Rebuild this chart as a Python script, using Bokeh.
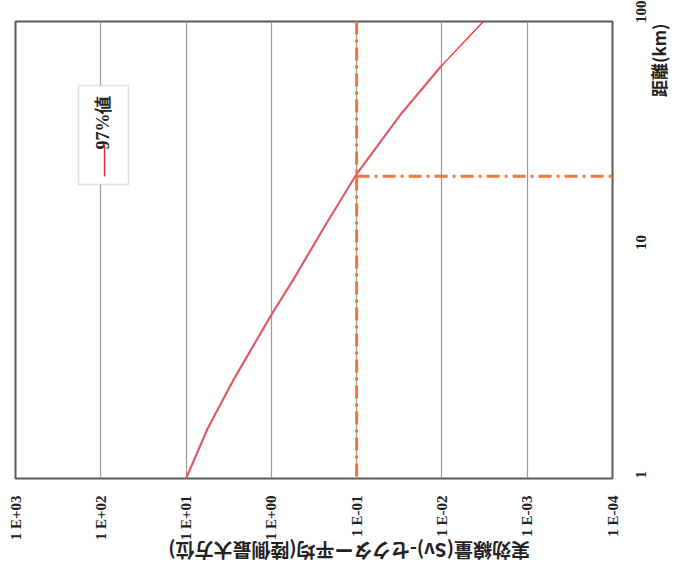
import math
from bokeh.plotting import figure
from bokeh.models import Range1d, FixedTicker, Label, BoxAnnotation, Span
from bokeh.embed import file_html
from bokeh.resources import INLINE

# ---- data ----
distance_km = [1.0, 1.65, 2.73, 5.2, 7.4, 12.9, 21.5, 39.7, 64.3]
dose_sv = [10.0, 5.6, 2.74, 1.0, 0.555, 0.231, 0.1, 0.0297, 0.01]
ext_distance_km = [64.3, 100.0]
ext_dose_sv = [0.01, 0.00327]

ref_dose = 0.1
ref_distance = 21.0

dose_ticks = [1e3, 1e2, 1e1, 1e0, 1e-1, 1e-2, 1e-3, 1e-4]
dose_tick_labels = ["1 E+03", "1 E+02", "1 E+01", "1 E+00", "1 E-01", "1 E-02", "1 E-03", "1 E-04"]
distance_ticks = [1, 10, 100]
distance_tick_labels = ["1", "10", "100"]

dose_title = "実効線量(Sv)-セクター平均(陸側最大方位)"
distance_title = "距離(km)"
legend_text = "97%値"

x_start, x_end = dose_ticks[0], dose_ticks[-1]
y_start, y_end = distance_ticks[0], distance_ticks[-1]

# ideographic spaces used only to shift the rotated axis titles along their axis
PAD = "\u3000"

p = figure(width=686, height=581, x_axis_type="log", y_axis_type="log",
           x_range=Range1d(x_start, x_end), y_range=Range1d(y_start, y_end),
           y_axis_location="right", output_backend="svg", toolbar_location=None,
           min_border_left=15, min_border_top=21, min_border_right=65, min_border_bottom=101,
           background_fill_color="white", border_fill_color="white")

p.outline_line_color = "#5a5a5a"
p.outline_line_width = 2

# x axis (dose)
xa = p.xaxis[0]
xa.ticker = FixedTicker(ticks=dose_ticks)
xa.major_label_overrides = {t: l for t, l in zip(dose_ticks, dose_tick_labels)}
xa.major_label_orientation = math.pi / 2
xa.major_label_text_font = "Liberation Serif"
xa.major_label_text_font_style = "bold"
xa.major_label_text_font_size = "15px"
xa.major_label_text_color = "#222222"
xa.major_label_standoff = 11
xa.axis_line_color = None
xa.major_tick_line_color = None
xa.minor_tick_line_color = None
xa.axis_label = dose_title + PAD * 8
xa.axis_label_orientation = math.pi
xa.axis_label_align = "end"
xa.axis_label_text_font = "Noto Sans CJK JP"
xa.axis_label_text_font_style = "bold"
xa.axis_label_text_font_size = "19px"
xa.axis_label_text_color = "#222222"
xa.axis_label_standoff = 8

# y axis (distance)
ya = p.yaxis[0]
ya.ticker = FixedTicker(ticks=distance_ticks)
ya.major_label_overrides = {t: l for t, l in zip(distance_ticks, distance_tick_labels)}
ya.major_label_orientation = math.pi / 2
ya.major_label_text_font = "Liberation Serif"
ya.major_label_text_font_style = "bold"
ya.major_label_text_font_size = "15px"
ya.major_label_text_color = "#222222"
ya.major_label_standoff = 22
ya.axis_line_color = None
ya.major_tick_line_color = None
ya.minor_tick_line_color = None
ya.axis_label = PAD * 9 + distance_title
ya.axis_label_orientation = math.pi / 2
ya.axis_label_align = "center"
ya.axis_label_text_font = "Noto Sans CJK JP"
ya.axis_label_text_font_style = "bold"
ya.axis_label_text_font_size = "17px"
ya.axis_label_text_color = "#222222"
ya.axis_label_standoff = 5

p.xgrid.ticker = FixedTicker(ticks=dose_ticks)
p.xgrid.grid_line_color = "#9a9a9a"
p.xgrid.grid_line_width = 1.2
p.ygrid.visible = False

# curve
p.line(dose_sv, distance_km, line_color="#e25a66", line_width=2.2)
p.line(ext_dose_sv, ext_distance_km, line_color="#ff2a2a", line_width=1.3)

# reference lines
orange = "#f0783a"
p.add_layout(Span(location=ref_dose, dimension="height", line_color=orange,
                  line_width=3, line_dash="13 5 3 5"))
p.segment(x0=[ref_dose], y0=[ref_distance], x1=[x_end], y1=[ref_distance],
          line_color=orange, line_width=3, line_dash="13 5 3 5")

# legend (rotated)
p.add_layout(BoxAnnotation(left=63, right=113, bottom=294, top=393,
                           left_units="screen", right_units="screen",
                           bottom_units="screen", top_units="screen",
                           fill_color="white", fill_alpha=1.0,
                           line_color="#9a9a9a", line_width=1.5))
p.add_layout(BoxAnnotation(left=88.3, right=89.8, bottom=302, top=334,
                           left_units="screen", right_units="screen",
                           bottom_units="screen", top_units="screen",
                           fill_color="#e8303a", fill_alpha=1.0, line_color=None))
p.add_layout(Label(x=87, y=356, x_units="screen", y_units="screen", text=legend_text,
                   angle=math.pi / 2, text_align="center", text_baseline="middle",
                   text_font="Liberation Serif", text_font_style="bold",
                   text_font_size="18px", text_color="#222222"))

open("out.html", "w").write(file_html(p, INLINE))
